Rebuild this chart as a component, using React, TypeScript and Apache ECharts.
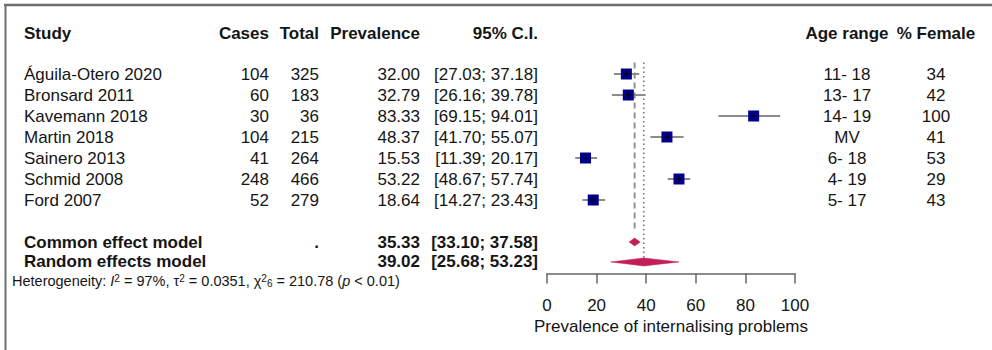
import React, { useEffect, useRef } from "react";
import * as echarts from "echarts";

// ---------- data ----------
const studies = [
  "Águila-Otero 2020",
  "Bronsard 2011",
  "Kavemann 2018",
  "Martin 2018",
  "Sainero 2013",
  "Schmid 2008",
  "Ford 2007",
];
const cases = [104, 60, 30, 104, 41, 248, 52];
const totals = [325, 183, 36, 215, 264, 466, 279];
const prevalence = [32.0, 32.79, 83.33, 48.37, 15.53, 53.22, 18.64];
const ciLower = [27.03, 26.16, 69.15, 41.7, 11.39, 48.67, 14.27];
const ciUpper = [37.18, 39.78, 94.01, 55.07, 20.17, 57.74, 23.43];
const ageRanges = ["11- 18", "13- 17", "14- 19", "MV", "6- 18", "4- 19", "5- 17"];
const pctFemale = [34, 42, 100, 41, 53, 29, 43];

const pooledLabels = ["Common effect model", "Random effects model"];
const pooledTotals = [".", ""];
const pooledEstimate = [35.33, 39.02];
const pooledLower = [33.1, 25.68];
const pooledUpper = [37.58, 53.23];

const headers = ["Study", "Cases", "Total", "Prevalence", "95% C.I.", "Age range", "% Female"];
const xTicks = [0, 20, 40, 60, 80, 100];
const xTitle = "Prevalence of internalising problems";

// ---------- layout ----------
const FONT = '"Liberation Sans", Arial, Helvetica, sans-serif';
const TXT = "#151515";
const FS = 17;
const HEADER_ROW = -1.95;
const POOLED_ROWS = [8, 8.95];
const HET_ROW = 9.85;

const fmt2 = (v: number) => v.toFixed(2);
const ciText = (lo: number, hi: number) => `[${fmt2(lo)}; ${fmt2(hi)}]`;

export default function App() {
  const ref = useRef<HTMLDivElement>(null);

  useEffect(() => {
    if (!ref.current) return;
    const chart = echarts.init(ref.current, null, { renderer: "svg" });

    const studyData = prevalence.map((p, i) => [p, ciLower[i], ciUpper[i], i]);
    const pooledData = pooledEstimate.map((p, i) => [p, pooledLower[i], pooledUpper[i], POOLED_ROWS[i]]);
    const refLines = [
      [pooledEstimate[0], -0.55, 7.5, 0],
      [pooledEstimate[1], -0.55, POOLED_ROWS[1], 1],
    ];

    chart.setOption({
      animation: false,
      backgroundColor: "#ffffff",
      grid: { left: 547, right: 197, top: 11, bottom: 76.5, containLabel: false },
      xAxis: {
        type: "value",
        position: "bottom",
        min: xTicks[0],
        max: xTicks[xTicks.length - 1],
        interval: 20,
        splitLine: { show: false },
        axisLine: { show: true, onZero: false, lineStyle: { color: "#666", width: 1.5 } },
        axisTick: { show: true, length: 10, lineStyle: { color: "#666", width: 1.5 } },
        axisLabel: { color: TXT, fontSize: FS, fontFamily: FONT, margin: 23 },
        name: xTitle,
        nameLocation: "middle",
        nameGap: 44,
        nameTextStyle: { color: TXT, fontSize: FS, fontFamily: FONT },
      },
      yAxis: {
        type: "value",
        inverse: true,
        min: -3,
        max: 9.5,
        show: false,
      },
      series: [
        {
          type: "custom",
          name: "refLines",
          data: refLines,
          z: 1,
          renderItem: (params: any, api: any) => {
            const x = api.coord([api.value(0), 0])[0];
            const y1 = api.coord([0, api.value(1)])[1];
            const y2 = api.coord([0, api.value(2)])[1];
            const dotted = api.value(3) === 1;
            return {
              type: "line",
              shape: { x1: x, y1, x2: x, y2 },
              style: {
                stroke: dotted ? "#777" : "#8a8a8a",
                lineWidth: dotted ? 1.6 : 1.8,
                lineDash: dotted ? [1.5, 3] : [6, 4],
              },
            };
          },
        },
        {
          type: "custom",
          name: "studies",
          data: studyData,
          z: 3,
          renderItem: (params: any, api: any) => {
            const row = api.value(3);
            const [xe, y] = api.coord([api.value(0), row]);
            const xl = api.coord([api.value(1), row])[0];
            const xh = api.coord([api.value(2), row])[0];
            const s = 11;
            return {
              type: "group",
              children: [
                { type: "line", shape: { x1: xl, y1: y, x2: xh, y2: y }, style: { stroke: "#8c8c8c", lineWidth: 2 } },
                { type: "rect", shape: { x: xe - s / 2, y: y - s / 2, width: s, height: s }, style: { fill: "#00008b" } },
                { type: "line", shape: { x1: xe - 3, y1: y, x2: xe + 3, y2: y }, style: { stroke: "#000", lineWidth: 1 } },
                { type: "line", shape: { x1: xe, y1: y - 3, x2: xe, y2: y + 3 }, style: { stroke: "#000", lineWidth: 1 } },
              ],
            };
          },
        },
        {
          type: "custom",
          name: "pooled",
          data: pooledData,
          z: 3,
          renderItem: (params: any, api: any) => {
            const row = api.value(3);
            const [xe, y] = api.coord([api.value(0), row]);
            const xl = api.coord([api.value(1), row])[0];
            const xh = api.coord([api.value(2), row])[0];
            const h = 4;
            return {
              type: "polygon",
              shape: { points: [[xl, y], [xe, y - h], [xh, y], [xe, y + h]] },
              style: { fill: "#c21e5a", stroke: "#c21e5a", lineWidth: 0.5 },
            };
          },
        },
      ],
    });

    const rowY = (r: number) => chart.convertToPixel({ gridIndex: 0 }, [0, r])[1] as number;

    const txt = (
      text: string,
      x: number,
      y: number,
      align: string,
      bold = false,
      extra: any = {}
    ) => ({
      type: "text",
      x,
      y,
      silent: true,
      style: {
        text,
        fill: TXT,
        fontSize: FS,
        fontFamily: FONT,
        fontWeight: bold ? "bold" : "normal",
        align,
        verticalAlign: "middle",
        lineHeight: 18,
        ...extra,
      },
    });

    const g: any[] = [];
    // frame
    g.push({ type: "line", shape: { x1: 4, y1: 5, x2: 992, y2: 5 }, style: { stroke: "#6e6e6e", lineWidth: 2.5 } });
    g.push({ type: "line", shape: { x1: 5.5, y1: 4, x2: 5.5, y2: 350 }, style: { stroke: "#6e6e6e", lineWidth: 2 } });

    // headers
    const hy = rowY(HEADER_ROW);
    const colX = [24, 269, 319, 420, 538, 847, 936];
    const colAlign = ["left", "right", "right", "right", "right", "center", "center"];
    headers.forEach((h, i) => g.push(txt(h, colX[i], hy, colAlign[i], true)));

    // study rows
    studies.forEach((s, i) => {
      const y = rowY(i);
      g.push(txt(s, colX[0], y, "left"));
      g.push(txt(String(cases[i]), colX[1], y, "right"));
      g.push(txt(String(totals[i]), colX[2], y, "right"));
      g.push(txt(fmt2(prevalence[i]), colX[3], y, "right"));
      g.push(txt(ciText(ciLower[i], ciUpper[i]), colX[4], y, "right"));
      g.push(txt(ageRanges[i], colX[5], y, "center"));
      g.push(txt(String(pctFemale[i]), colX[6], y, "center"));
    });

    // pooled rows
    pooledLabels.forEach((l, i) => {
      const y = rowY(POOLED_ROWS[i]);
      g.push(txt(l, colX[0], y, "left", true));
      if (pooledTotals[i]) g.push(txt(pooledTotals[i], colX[2], y, "right", true));
      g.push(txt(fmt2(pooledEstimate[i]), colX[3], y, "right", true));
      g.push(txt(ciText(pooledLower[i], pooledUpper[i]), colX[4], y, "right", true));
    });

    // heterogeneity
    const small = 14.5;
    const lh = 15;
    g.push({
      type: "text",
      x: 12,
      y: rowY(HET_ROW),
      silent: true,
      style: {
        text:
          "Heterogeneity: {it|I}{sup|2} = 97%, τ{sup|2} = 0.0351, χ{sup|2}{sub|6} = 210.78 ({it|p} < 0.01)",
        fill: TXT,
        fontSize: small,
        fontFamily: FONT,
        align: "left",
        verticalAlign: "middle",
        lineHeight: lh,
        rich: {
          it: { fontStyle: "italic", fontSize: small, fontFamily: FONT, fill: TXT, lineHeight: lh },
          sup: { fontSize: 10, fontFamily: FONT, fill: TXT, verticalAlign: "top", lineHeight: 10 },
          sub: { fontSize: 10, fontFamily: FONT, fill: TXT, verticalAlign: "bottom", lineHeight: 10 },
        },
      },
    });

    chart.setOption({ graphic: { elements: g } });

    return () => chart.dispose();
  }, []);

  return (
    <div
      ref={ref}
      style={{ position: "absolute", left: 0, top: 0, width: 992, height: 350, background: "#fff" }}
    />
  );
}
